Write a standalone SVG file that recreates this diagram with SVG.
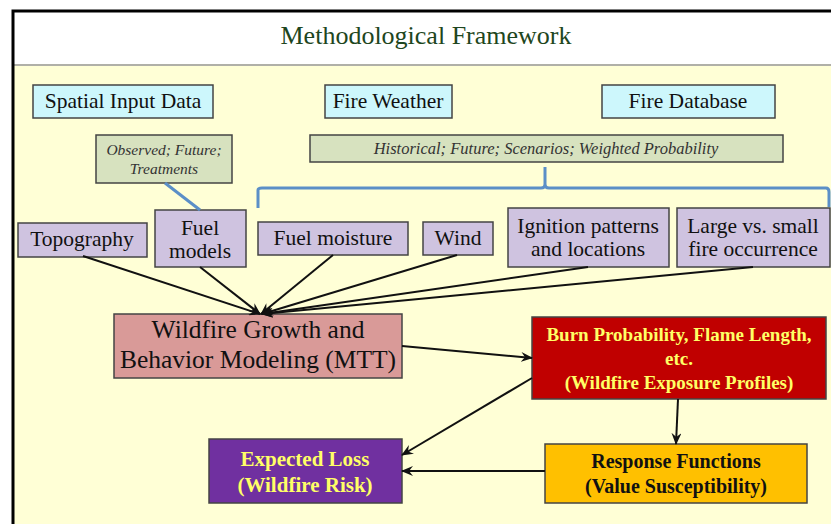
<svg xmlns="http://www.w3.org/2000/svg" width="831" height="524" viewBox="0 0 831 524">
<style>
text{font-family:"Liberation Serif","Times New Roman",serif;text-anchor:middle;}
.box{stroke:#444;stroke-width:1.5;}
.blue{fill:#cdf7fc;}
.olive{fill:#d7e2bf;}
.lav{fill:#cfc3e0;}
.t{font-size:21.5px;fill:#111;}
.it{font-style:italic;font-size:15.5px;fill:#333;}
.conn{stroke:#111;stroke-width:2;fill:none;}
.br{stroke:#5b8fc7;stroke-width:3;fill:none;}
</style>
<defs>
<marker id="ah" markerWidth="12" markerHeight="10" refX="11" refY="5" orient="auto" markerUnits="userSpaceOnUse">
<path d="M0,0 L12,5 L0,10 L4,5 Z" fill="#111"/>
</marker>
</defs>
<rect x="0" y="0" width="831" height="524" fill="#fff"/>
<rect x="14" y="66" width="817" height="458" fill="#ffffd6"/>
<line x1="14" y1="65" x2="831" y2="65" stroke="#b0b0a8" stroke-width="2"/>
<path d="M13,524 V11 H831" fill="none" stroke="#000" stroke-width="3"/>
<text x="426" y="44" style="font-size:26px;fill:#1e4620;">Methodological Framework</text>

<g id="spatial"><rect class="box blue" x="33" y="85" width="180" height="33"/><text class="t" x="123" y="108">Spatial Input Data</text></g>
<g id="weather"><rect class="box blue" x="325" y="85" width="127" height="33"/><text class="t" x="388" y="108">Fire Weather</text></g>
<g id="database"><rect class="box blue" x="602" y="85" width="173" height="33"/><text class="t" x="688" y="108">Fire Database</text></g>

<g id="observed"><rect class="box olive" x="96" y="135" width="136" height="48"/><text class="it" x="164" y="155">Observed; Future;</text><text class="it" x="164" y="174">Treatments</text></g>
<g id="historical"><rect class="box olive" x="310" y="135" width="473" height="27"/><text class="it" x="546" y="154" style="font-size:16.5px;">Historical; Future; Scenarios; Weighted Probability</text></g>

<g id="topography"><rect class="box lav" x="18" y="223" width="129" height="34"/><text class="t" x="82" y="246">Topography</text></g>
<g id="fuelmodels"><rect class="box lav" x="155" y="210" width="91" height="57"/><text class="t" x="200" y="235">Fuel</text><text class="t" x="200" y="258">models</text></g>
<g id="fuelmoisture"><rect class="box lav" x="258" y="222" width="150" height="33"/><text class="t" x="333" y="245">Fuel moisture</text></g>
<g id="wind"><rect class="box lav" x="423" y="222" width="70" height="33"/><text class="t" x="458" y="245">Wind</text></g>
<g id="ignition"><rect class="box lav" x="508" y="208" width="161" height="59"/><text class="t" x="588" y="233">Ignition patterns</text><text class="t" x="588" y="256">and locations</text></g>
<g id="large"><rect class="box lav" x="677" y="208" width="153" height="59"/><text class="t" x="753" y="233">Large vs. small</text><text class="t" x="753" y="256">fire occurrence</text></g>

<g id="growth"><rect class="box" fill="#d99a98" x="114" y="314" width="288" height="64"/><text x="258" y="338" style="font-size:25.5px;fill:#111;">Wildfire Growth and</text><text x="258" y="368" style="font-size:25.5px;fill:#111;">Behavior Modeling (MTT)</text></g>
<g id="burn"><rect class="box" fill="#c00000" x="532" y="317" width="294" height="82"/><text x="679" y="341" style="font-size:19px;font-weight:bold;fill:#ffff66;">Burn Probability, Flame Length,</text><text x="679" y="365" style="font-size:19px;font-weight:bold;fill:#ffff66;">etc.</text><text x="679" y="389" style="font-size:19px;font-weight:bold;fill:#ffff66;">(Wildfire Exposure Profiles)</text></g>
<g id="loss"><rect class="box" fill="#7030a0" x="209" y="439" width="193" height="64"/><text x="305" y="466" style="font-size:21px;font-weight:bold;fill:#ffff66;">Expected Loss</text><text x="305" y="492" style="font-size:21px;font-weight:bold;fill:#ffff66;">(Wildfire Risk)</text></g>
<g id="response"><rect class="box" fill="#ffc000" x="545" y="444" width="262" height="59"/><text x="676" y="468" style="font-size:20px;font-weight:bold;fill:#111;">Response Functions</text><text x="676" y="493" style="font-size:20px;font-weight:bold;fill:#111;">(Value Susceptibility)</text></g>

<g id="connectors">
<path class="br" d="M258,208 V190 Q258,188 262,188 H541 Q545,188 545,184 V167 M545,184 Q545,188 549,188 H826 Q829,188 829,192 V207"/>
<line class="br" x1="165" y1="183" x2="200" y2="210"/>
<line class="conn" x1="83" y1="256" x2="260" y2="314" marker-end="url(#ah)"/>
<line class="conn" x1="200" y1="267" x2="260" y2="314" marker-end="url(#ah)"/>
<line class="conn" x1="333" y1="255" x2="261" y2="314" marker-end="url(#ah)"/>
<line class="conn" x1="457" y1="255" x2="262" y2="314" marker-end="url(#ah)"/>
<line class="conn" x1="588" y1="267" x2="262" y2="314" marker-end="url(#ah)"/>
<line class="conn" x1="753" y1="267" x2="262" y2="314" marker-end="url(#ah)"/>
<line class="conn" x1="402" y1="346" x2="532" y2="358" marker-end="url(#ah)"/>
<line class="conn" x1="532" y1="378" x2="402" y2="455" marker-end="url(#ah)"/>
<line class="conn" x1="678" y1="399" x2="676" y2="444" marker-end="url(#ah)"/>
<line class="conn" x1="545" y1="471" x2="402" y2="471" marker-end="url(#ah)"/>
</g>
</svg>
